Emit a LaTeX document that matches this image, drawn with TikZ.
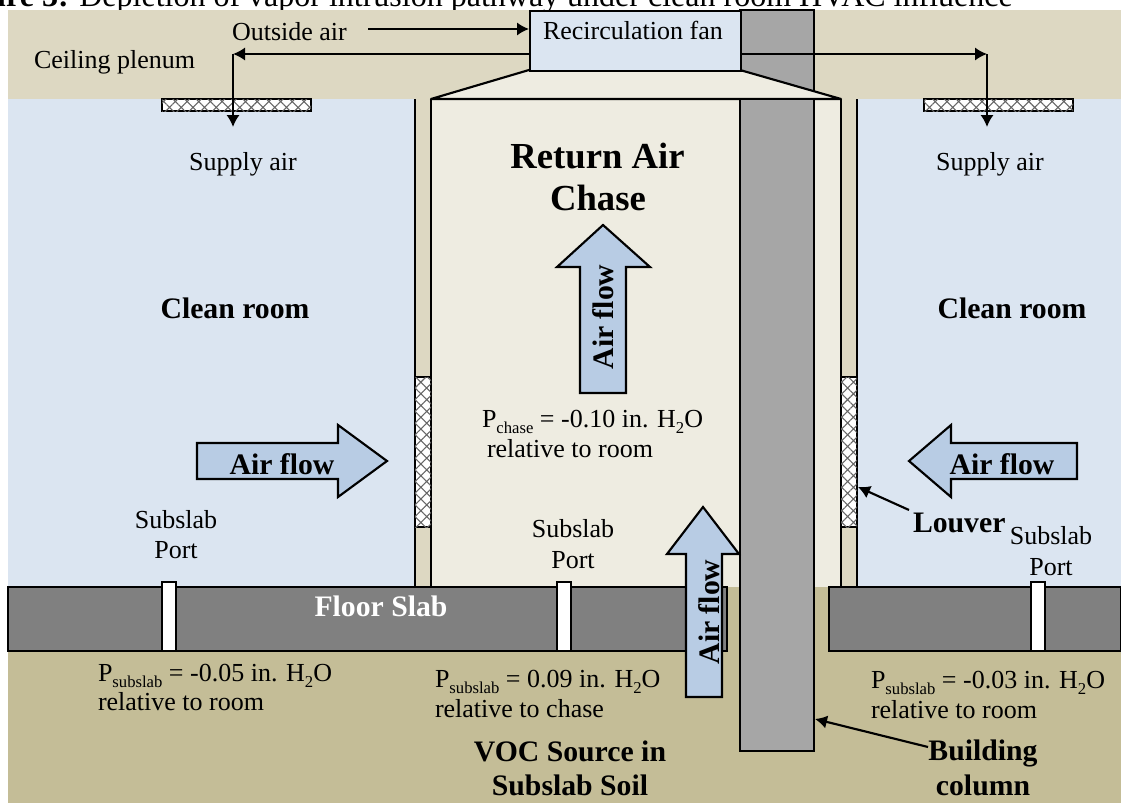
\documentclass[tikz,border=0pt]{standalone}
\usepackage{fontspec}
\setmainfont{Liberation Serif}
\usetikzlibrary{arrows.meta,patterns.meta}
\definecolor{plenum}{HTML}{DDD8C2}
\definecolor{room}{HTML}{DBE5F1}
\definecolor{chase}{HTML}{EEECE1}
\definecolor{soil}{HTML}{C4BD97}
\definecolor{slab}{HTML}{808080}
\definecolor{col}{HTML}{A6A6A6}
\definecolor{flow}{HTML}{B8CCE4}
\newcommand{\fs}[1]{\fontsize{#1}{#1}\selectfont}
\newcommand{\lowsub}[1]{\raisebox{-.55ex}{\fs{12.5}#1}}
\tikzset{
  outl/.style={draw=black,line width=1.6pt},
  blockarrow/.style={outl,fill=flow,line join=miter},
  hatchbar/.style={outl,fill=white,postaction={pattern={Hatch[angle=45,distance=6.2pt,line width=.8pt]},pattern color=black!60}},
  conn/.style={line width=1.6pt,-{Latex[length=9pt,width=10pt]}},
  plain/.style={inner sep=0pt,outer sep=0pt,align=left,anchor=base west,font=\fs{19.5}},
  center/.style={inner sep=0pt,outer sep=0pt,align=center,anchor=base,font=\fs{19.5}},
  boldl/.style={inner sep=0pt,outer sep=0pt,anchor=base,font=\fs{22.3}\bfseries},
  bigl/.style={inner sep=0pt,outer sep=0pt,anchor=base,font=\fs{27.5}\bfseries},
  flowl/.style={inner sep=0pt,outer sep=0pt,anchor=base,font=\fs{22.3}\bfseries},
}
\begin{document}
\begin{tikzpicture}[x=0.75pt,y=-0.75pt]
\useasboundingbox (0,0) rectangle (1121,803);
% bands
\fill[white] (0,0) rectangle (1121,803);
\fill[plenum] (8,10) rectangle (1121,99);
\fill[room] (8,99) rectangle (1121,587);
\fill[soil] (8,587) rectangle (1121,803);
\fill[plenum] (415,99) rectangle (857,587);
\fill[chase] (431,99) rectangle (841,587);
% title
\begin{scope}
\clip (0,0) rectangle (1121,9.5);
\node[inner sep=0pt,anchor=base east,font=\fs{24}] (title) at (1013,6.5) {\textbf{Figure 3:} Depletion of vapor intrusion pathway under clean room HVAC influence};
\end{scope}
% walls
\draw[outl] (415,99) -- (415,587);
\draw[outl] (857,99) -- (857,587);
% column
\draw[outl,fill=col] (740,10) rectangle (814,751);
% trapezoid and chase outline
\draw[outl,fill=chase,line join=round] (529,70) -- (740,70) -- (841,99) -- (431,99) -- cycle;
\draw[outl] (431,99) -- (431,587);
\draw[outl] (841,99) -- (841,587);
\draw[outl,fill=col] (740,99) rectangle (814,751);
% slab
\draw[outl,fill=slab] (8,587) rectangle (727,651);
\draw[outl,fill=slab] (829,587) rectangle (1121,651);
% ports
\draw[outl,fill=white] (162,582) rectangle (176,651);
\draw[outl,fill=white] (557,582) rectangle (571,651);
\draw[outl,fill=white] (1031,582) rectangle (1045,651);
% louvers and supply grilles
\draw[hatchbar] (415,377) rectangle (431,527);
\draw[hatchbar] (841,377) rectangle (857,527);
\draw[hatchbar] (162,99) rectangle (311,111);
\draw[hatchbar] (924,99) rectangle (1073,111);
% fan
\node[outl,fill=room,inner sep=0pt,anchor=north west,minimum width=158pt,minimum height=45pt] (fan) at (529,10) {};
\node[plain] (fanl) at (543,39) {Recirculation fan};
% air paths
\coordinate (oastart) at (368,29);
\coordinate (turnl) at (233,54);
\coordinate (turnr) at (987,54);
\coordinate (suppl) at (233,127);
\coordinate (suppr) at (987,127);
\draw[conn] (oastart) -- (fan.west |- oastart);
\draw[conn] (fan.west |- turnl) -- (turnl);
\draw[conn] (fan.east |- turnr) -- (turnr);
\draw[conn] (turnl) -- (suppl);
\draw[conn] (turnr) -- (suppr);
% block arrows
\draw[blockarrow] (197,443) -- (338,443) -- (338,425) -- (387,461) -- (338,497) -- (338,479) -- (197,479) -- cycle;
\draw[blockarrow] (1077,443) -- (951,443) -- (951,425) -- (909,461) -- (951,497) -- (951,479) -- (1077,479) -- cycle;
\draw[blockarrow] (580,393) -- (580,267) -- (557,267) -- (603,225) -- (650,267) -- (626,267) -- (626,393) -- cycle;
\draw[blockarrow] (686,697) -- (686,554) -- (667,554) -- (703,507) -- (739,554) -- (722,554) -- (722,697) -- cycle;
\node[flowl] (f1) at (282,474) {Air flow};
\node[flowl] (f2) at (1002,474) {Air flow};
\node[flowl,rotate=90] (f3) at (613,317) {Air flow};
\node[flowl,rotate=90] (f4) at (719,612) {Air flow};
% labels
\node[plain] (oa) at (232,40) {Outside air};
\node[plain] (cp) at (34,68) {Ceiling plenum};
\node[center] (s1) at (243,170) {Supply air};
\node[center] (s2) at (990,170) {Supply air};
\node[boldl] (cr1) at (235,318) {Clean room};
\node[boldl] (cr2) at (1012,318) {Clean room};
\node[bigl] (rac) at (597.5,168) {Return Air};
\node[bigl] (rac2) at (598,210) {Chase};
\node[plain] (p0) at (482,427) {P\lowsub{chase} = -0.10 in. H\lowsub{2}O};
\node[plain] (p0b) at (487,457) {relative to room};
\node[center] (sp1) at (176,528) {Subslab};
\node[center] (sp1b) at (176,558) {Port};
\node[center] (sp2) at (573,537) {Subslab};
\node[center] (sp2b) at (573,568) {Port};
\node[center] (sp3) at (1051,544) {Subslab};
\node[center] (sp3b) at (1051,575) {Port};
\node[boldl,text=white] (fs) at (381,616) {Floor Slab};
\node[plain] (p1) at (98,681) {P\lowsub{subslab} = -0.05 in. H\lowsub{2}O};
\node[plain] (p1b) at (98,710) {relative to room};
\node[plain] (p2) at (435,687) {P\lowsub{subslab} = 0.09 in. H\lowsub{2}O};
\node[plain] (p2b) at (435,717) {relative to chase};
\node[plain] (p3) at (871,688) {P\lowsub{subslab} = -0.03 in. H\lowsub{2}O};
\node[plain] (p3b) at (871,718) {relative to room};
\node[boldl] (voc) at (570,761) {VOC Source in};
\node[boldl] (voc2) at (570,795) {Subslab Soil};
\node[boldl] (bc) at (983,760) {Building};
\node[boldl] (bc2) at (983,795) {column};
\node[boldl,anchor=base west] (louv) at (913,532) {Louver};
\coordinate (louvtip) at (858,487);
\coordinate (louvfrom) at (909,510);
\coordinate (coltip) at (815,719);
\coordinate (colfrom) at (928,747);
\draw[conn] (louvfrom) -- (louvtip);
\draw[conn] (colfrom) -- (coltip);
\end{tikzpicture}
\end{document}
